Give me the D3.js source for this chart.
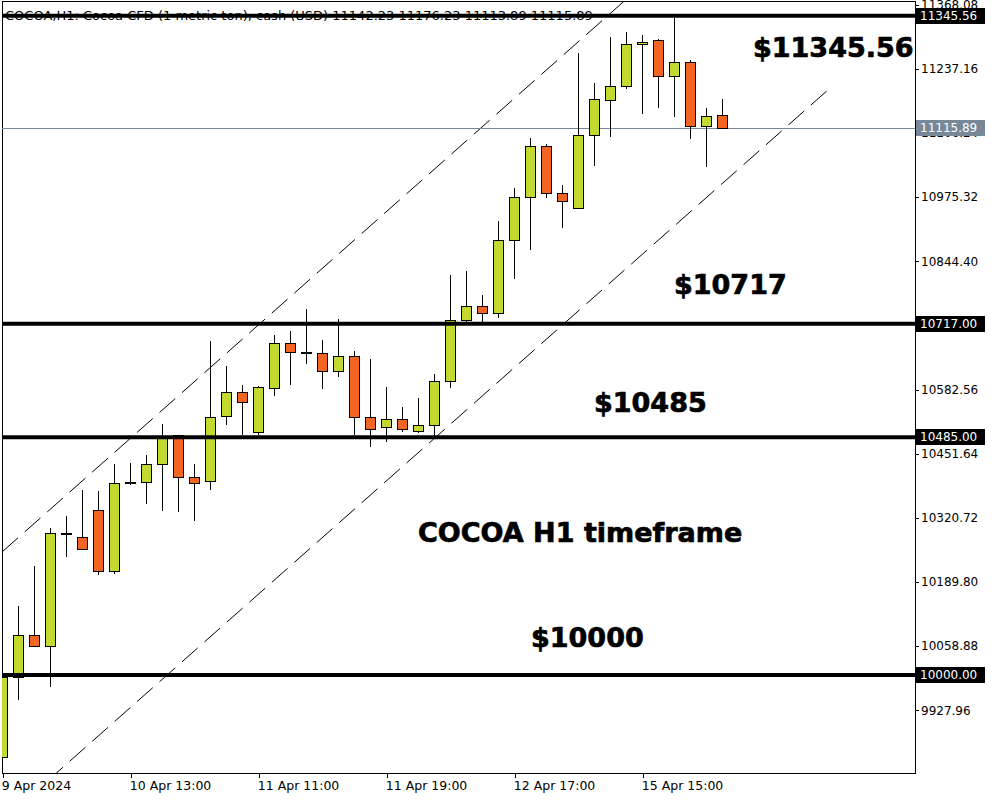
<!DOCTYPE html>
<html>
<head>
<meta charset="utf-8">
<script src="https://cdn.jsdelivr.net/npm/d3@7"></script>
<style>
  html, body { margin: 0; padding: 0; background: #ffffff; }
  svg { display: block; }
</style>
</head>
<body>
<svg id="chart" width="1000" height="800"></svg>
<script>
// ---------------- DATA ----------------
const candleOpen  = [9833, 9995, 10081, 10060, 10289, 10282, 10336, 10213, 10392, 10393,
                     10431, 10489, 10405, 10395, 10529, 10578, 10496, 10586, 10678, 10659,
                     10658, 10621, 10652, 10527, 10507, 10522, 10497, 10511, 10601, 10725,
                     10753, 10739, 10888, 10975, 11079, 10984, 10953, 11102, 11173, 11202,
                     11287, 11296, 11222, 11251, 11120, 11142.23];
const candleHigh  = [9998, 10141, 10222, 10301, 10325, 10377, 10375, 10431, 10433, 10448,
                     10513, 10490, 10430, 10681, 10630, 10591, 10589, 10693, 10703, 10746,
                     10684, 10727, 10662, 10644, 10587, 10546, 10566, 10615, 10817, 10825,
                     10776, 10927, 10994, 11096, 11083, 11001, 11270, 11209, 11302, 11312,
                     11306, 11298, 11341, 11255, 11157, 11176.23];
const candleLow   = [9828, 9950, 10058, 9975, 10241, 10257, 10205, 10206, 10388, 10348,
                     10335, 10333, 10315, 10377, 10510, 10489, 10489, 10569, 10592, 10635,
                     10584, 10608, 10489, 10465, 10475, 10496, 10493, 10486, 10585, 10720,
                     10720, 10729, 10808, 10867, 10973, 10912, 10951, 11039, 11097, 11195,
                     11145, 11157, 11139, 11093, 11036, 11113.89];
const candleClose = [9996, 10081, 10060, 10289, 10289, 10258, 10213, 10391, 10393, 10431,
                     10487, 10405, 10391, 10527, 10578, 10558, 10587, 10678, 10660, 10659,
                     10621, 10652, 10527, 10503, 10522, 10503, 10511, 10599, 10725, 10753,
                     10739, 10888, 10975, 11079, 10984, 10967, 11102, 11175, 11202, 11287,
                     11291, 11222, 11251, 11120, 11141, 11115.89];

const timeTickIndex  = [0, 8, 16, 24, 32, 40];
const timeTickLabels = ["9 Apr 2024", "10 Apr 13:00", "11 Apr 11:00", "11 Apr 19:00", "12 Apr 17:00", "15 Apr 15:00"];

const priceTicks = [11368.08, 11237.16, 11106.24, 10975.32, 10844.40, 10713.48,
                    10582.56, 10451.64, 10320.72, 10189.80, 10058.88, 9927.96];

const levelValues = [11345.56, 10717, 10485, 10000];
const levelLabels = ["$11345.56", "$10717", "$10485", "$10000"];
const currentPrice = 11115.89;

// channel lines as [bar index, price]
const upperChannel = [[0, 10251.6], [51.6, 11743.4]];
const lowerChannel = [[0, 9702.2], [51.6, 11193.9]];

const headerText = "COCOA,H1:  Cocoa CFD (1 metric ton), cash (USD)  11142.23 11176.23 11113.89 11115.89";
const titleText = "COCOA H1 timeframe";

// ---------------- LAYOUT ----------------
const plotLeft = 2, plotRight = 915, plotTop = 1, plotBottom = 773;
const barStep = 16;
const bullColor = "#C4D930", bearColor = "#F26522";

const svg = d3.select("#chart");
svg.append("rect").attr("width", 1000).attr("height", 800).attr("fill", "#fff");

const x = d3.scaleLinear().domain([0, 1]).range([2.3, 2.3 + barStep]);
const y = d3.scaleLinear().domain([9800, 11373.5]).range([773, 2]);

svg.append("clipPath").attr("id", "plotClip")
  .append("rect").attr("x", plotLeft).attr("y", plotTop)
  .attr("width", plotRight - plotLeft).attr("height", plotBottom - plotTop);

const fontAxis = "DejaVu Sans, Tahoma, sans-serif";

// ---- axes ----
const yAxis = d3.axisRight(y).tickValues(priceTicks).tickSize(4).tickPadding(2)
  .tickFormat(d3.format(".2f"));
const gy = svg.append("g").attr("transform", `translate(${plotRight},0)`).call(yAxis);
gy.select(".domain").remove();
gy.selectAll("text").attr("font-family", fontAxis).attr("font-size", 12).attr("fill", "#000");
gy.selectAll("line").attr("stroke", "#000").attr("shape-rendering", "crispEdges");

const xAxis = d3.axisBottom(x).tickValues(timeTickIndex).tickSize(5).tickPadding(3)
  .tickFormat((d, i) => timeTickLabels[i]);
const gx = svg.append("g").attr("transform", `translate(0,${plotBottom})`).call(xAxis);
gx.select(".domain").remove();
gx.selectAll("text").attr("font-family", fontAxis).attr("font-size", 12.5).attr("fill", "#000")
  .attr("text-anchor", "start").attr("dx", -1);
gx.selectAll("line").attr("stroke", "#000").attr("shape-rendering", "crispEdges")
  .attr("transform", "translate(0.5,0)");

// frame
svg.append("rect").attr("x", plotLeft + 0.5).attr("y", plotTop + 0.5)
  .attr("width", plotRight - plotLeft).attr("height", plotBottom - plotTop)
  .attr("fill", "none").attr("stroke", "#000").attr("stroke-width", 1)
  .attr("shape-rendering", "crispEdges");

const plot = svg.append("g").attr("clip-path", "url(#plotClip)");

// header
plot.append("text").attr("x", 5).attr("y", 20)
  .attr("font-family", fontAxis).attr("font-size", 13).attr("fill", "#000")
  .text(headerText);

// channel lines
const line = d3.line().x(d => x(d[0])).y(d => y(d[1]));
[upperChannel, lowerChannel].forEach(ch => {
  plot.append("path").attr("d", line(ch)).attr("fill", "none")
    .attr("stroke", "#000").attr("stroke-width", 1).attr("stroke-dasharray", "21,9");
});

// current price line
plot.append("line").attr("x1", plotLeft).attr("x2", plotRight)
  .attr("y1", Math.round(y(currentPrice)) + 0.5).attr("y2", Math.round(y(currentPrice)) + 0.5)
  .attr("stroke", "#778899").attr("stroke-width", 1).attr("shape-rendering", "crispEdges");

// candles
const idx = d3.range(candleOpen.length);
const cg = plot.append("g").attr("shape-rendering", "crispEdges");
idx.forEach(i => {
  const cx = Math.round(x(i)) + 0.5;
  const o = candleOpen[i], c = candleClose[i];
  cg.append("line").attr("x1", cx).attr("x2", cx)
    .attr("y1", y(candleHigh[i])).attr("y2", y(candleLow[i]))
    .attr("stroke", "#000").attr("stroke-width", 1);
  const top = Math.round(y(Math.max(o, c))), bot = Math.round(y(Math.min(o, c)));
  cg.append("rect").attr("x", cx - 5).attr("y", top + 0.5)
    .attr("width", 10).attr("height", Math.max(bot - top, 1))
    .attr("fill", c >= o ? bullColor : bearColor)
    .attr("stroke", "#000").attr("stroke-width", 1);
});

// level lines
levelValues.forEach(v => {
  plot.append("line").attr("x1", plotLeft).attr("x2", plotRight)
    .attr("y1", y(v)).attr("y2", y(v))
    .attr("stroke", "#000").attr("stroke-width", 4);
});

// annotation texts
const annFont = "DejaVu Sans, Arial Black, sans-serif";
const annPos = [[753, 57], [674, 294], [594, 412], [531, 647]];
levelLabels.forEach((t, i) => {
  plot.append("text").attr("x", annPos[i][0]).attr("y", annPos[i][1])
    .attr("font-family", annFont).attr("font-weight", "bold").attr("font-size", 27)
    .attr("fill", "#000").attr("stroke", "#000").attr("stroke-width", 0.7).text(t);
});
plot.append("text").attr("x", 418).attr("y", 542)
  .attr("font-family", annFont).attr("font-weight", "bold").attr("font-size", 27)
  .attr("fill", "#000").attr("stroke", "#000").attr("stroke-width", 0.7).text(titleText);

// price boxes on right axis
function priceBox(v, bg) {
  const yy = Math.round(y(v));
  svg.append("rect").attr("x", 916).attr("y", yy - 8).attr("width", 69).attr("height", 16)
    .attr("fill", bg).attr("shape-rendering", "crispEdges");
  svg.append("text").attr("x", 920).attr("y", yy).attr("dy", "0.35em")
    .attr("font-family", fontAxis).attr("font-size", 12).attr("fill", "#fff")
    .text(d3.format(".2f")(v));
}
levelValues.forEach(v => priceBox(v, "#000"));
priceBox(currentPrice, "#778899");
</script>
</body>
</html>
